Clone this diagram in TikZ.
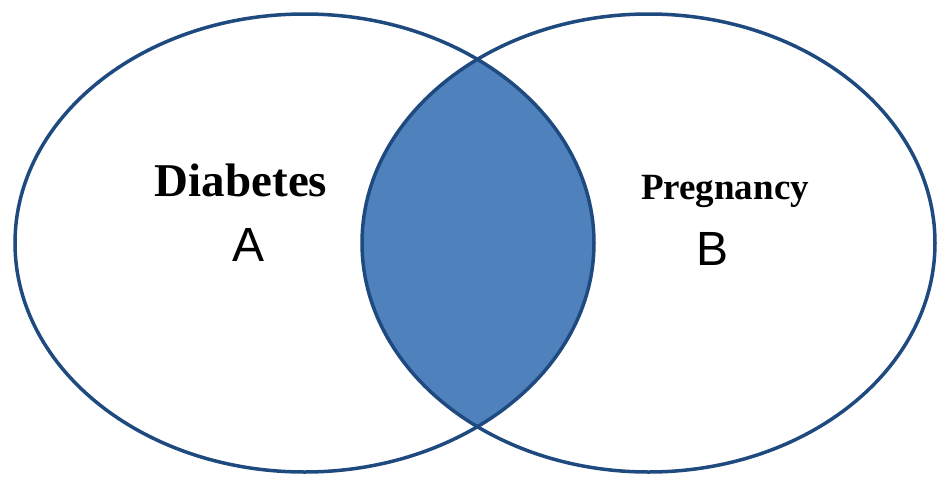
\documentclass[tikz,border=0pt]{standalone}
\usepackage{fontspec}
\setmainfont{Liberation Serif}
\newfontfamily\labelsans{Liberation Sans}
\definecolor{ringblue}{HTML}{1F4A80}
\definecolor{lensblue}{HTML}{4F81BD}
\tikzset{
  ring/.style={draw=ringblue, line width=3.5pt},
  setname/.style={font=\bfseries, anchor=base, inner sep=0pt},
  setletter/.style={font=\labelsans, anchor=base, inner sep=0pt},
}
\begin{document}
\begin{tikzpicture}[x=1pt,y=-1pt]
\useasboundingbox (0,0) rectangle (938,477);
\begin{scope}
  \clip (304.5,243) ellipse [x radius=289.5, y radius=229];
  \fill[lensblue] (648.5,243) ellipse [x radius=286.5, y radius=229];
\end{scope}
\draw[ring] (304.5,243) ellipse [x radius=289.5, y radius=229];
\draw[ring] (648.5,243) ellipse [x radius=286.5, y radius=229];
\node[setname, font=\fontsize{47}{50}\selectfont\bfseries] (diab) at (241,196) {Diabetes};
\node[setletter, font=\fontsize{48}{50}\selectfont\labelsans] (la) at (249,261) {A};
\node[setname, font=\fontsize{37}{40}\selectfont\bfseries] (preg) at (725,199) {Pregnancy};
\node[setletter, font=\fontsize{48}{50}\selectfont\labelsans] (lb) at (713,265) {B};
\end{tikzpicture}
\end{document}
